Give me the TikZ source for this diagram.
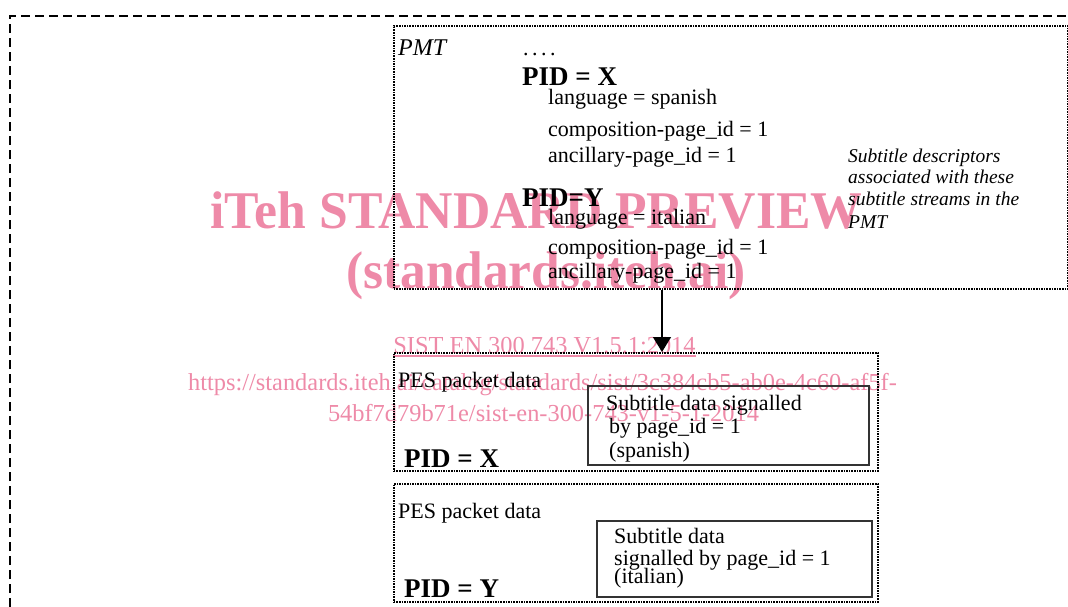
\documentclass[tikz,border=0pt]{standalone}
\usepackage{fontspec}
\setmainfont{Liberation Serif}
\usetikzlibrary{arrows.meta}
\definecolor{wm}{RGB}{238,138,168}
\definecolor{boxgray}{RGB}{51,51,51}
\tikzset{
  dotbox/.style={draw,dash pattern=on 1.6pt off 1.0pt,line width=1.6pt,inner sep=0pt,anchor=north west},
  solidbox/.style={draw=boxgray,line width=1.7pt,inner sep=0pt,anchor=north west},
  txt/.style={anchor=base west,inner sep=0pt,font=\fontsize{22}{26}\selectfont},
  boldtxt/.style={anchor=base west,inner sep=0pt,font=\fontsize{27}{30}\selectfont\bfseries},
  ittxt/.style={anchor=base west,inner sep=0pt,font=\fontsize{19.5}{22}\selectfont\itshape},
  wmbig/.style={anchor=base,inner sep=0pt,text=wm,font=\fontsize{53}{56}\selectfont\bfseries},
  wmsmall/.style={anchor=base,inner sep=0pt,text=wm,font=\fontsize{24.4}{28}\selectfont},
  outer/.style={line width=1.8pt,dash pattern=on 9pt off 5pt},
  arr/.style={line width=1.3pt,-{Triangle[width=18pt,length=15pt]}}
}
\begin{document}
\begin{tikzpicture}[x=1pt,y=-1pt]
\useasboundingbox (0,0) rectangle (1068,607);
% watermark
\node[wmbig] (wm1) at (536.5,228) {\scalebox{0.975}[1]{iTeh STANDARD PREVIEW}};
\node[wmbig] (wm2) at (546,288) {\scalebox{0.97}[1]{(standards.iteh.ai)}};
\node[wmsmall] (sist) at (544.5,353) {SIST EN 300 743 V1.5.1:2014};
\draw[wm,line width=1.2pt] ([yshift=-3pt]sist.base west) -- ([yshift=-3pt]sist.base east);
\node[wmsmall] (url1) at (542.5,390) {https://standards.iteh.ai/catalog/standards/sist/3c384cb5-ab0e-4c60-af5f-};
\node[wmsmall] (url2) at (543.5,421) {54bf7d79b71e/sist-en-300-743-v1-5-1-2014};
% outer frame
\draw[outer] (10,607) -- (10,16) -- (1068,16);
% PMT box
\node[dotbox,minimum width=674pt,minimum height=263pt] (pmt) at (393,25) {};
\node[txt,font=\fontsize{24}{28}\selectfont\itshape] (pmtl) at (398,56) {PMT};
\node[txt] (dots) at (523,56) {.\kern3.5pt.\kern3.5pt.\kern3.5pt.};
\node[boldtxt] (pidx) at (522,86) {PID = X};
\node[txt] (lx1) at (548,105) {language = spanish};
\node[txt] (lx2) at (548,137) {composition-page\_id = 1};
\node[txt] (lx3) at (548,162) {ancillary-page\_id = 1};
\node[boldtxt] (pidy) at (522,206) {PID=Y};
\node[txt] (ly1) at (548,224) {language = italian};
\node[txt] (ly2) at (548,254) {composition-page\_id = 1};
\node[txt] (ly3) at (548,278) {ancillary-page\_id = 1};
\node[ittxt] (n1) at (848,162) {Subtitle descriptors};
\node[ittxt] (n2) at (848,183) {associated with these};
\node[ittxt] (n3) at (848,205) {subtitle streams in the};
\node[ittxt] (n4) at (848,228) {PMT};
% PES boxes
\node[dotbox,minimum width=484pt,minimum height=118pt] (pes1) at (393,352) {};
\node[txt] (pes1l) at (398,387) {PES packet data};
\node[solidbox,minimum width=281pt,minimum height=79pt] (in1) at (587,385) {};
\node[txt] (s1a) at (606,410) {Subtitle data signalled};
\node[txt] (s1b) at (609,433) {by page\_id = 1};
\node[txt] (s1c) at (609,457) {(spanish)};
\node[boldtxt] (p1) at (404,467) {PID = X};
\node[dotbox,minimum width=484pt,minimum height=118pt] (pes2) at (393,483) {};
\node[txt] (pes2l) at (398,518) {PES packet data};
\node[solidbox,minimum width=275pt,minimum height=76pt] (in2) at (596,520) {};
\node[txt] (s2a) at (614,543) {Subtitle data};
\node[txt] (s2b) at (614,565) {signalled by page\_id = 1};
\node[txt] (s2c) at (614,583) {(italian)};
\node[boldtxt] (p2) at (404,597) {PID = Y};
% arrow
\coordinate (ax) at (662,0);
\draw[arr] (pmt.south -| ax) -- (pes1.north -| ax);
\end{tikzpicture}
\end{document}
